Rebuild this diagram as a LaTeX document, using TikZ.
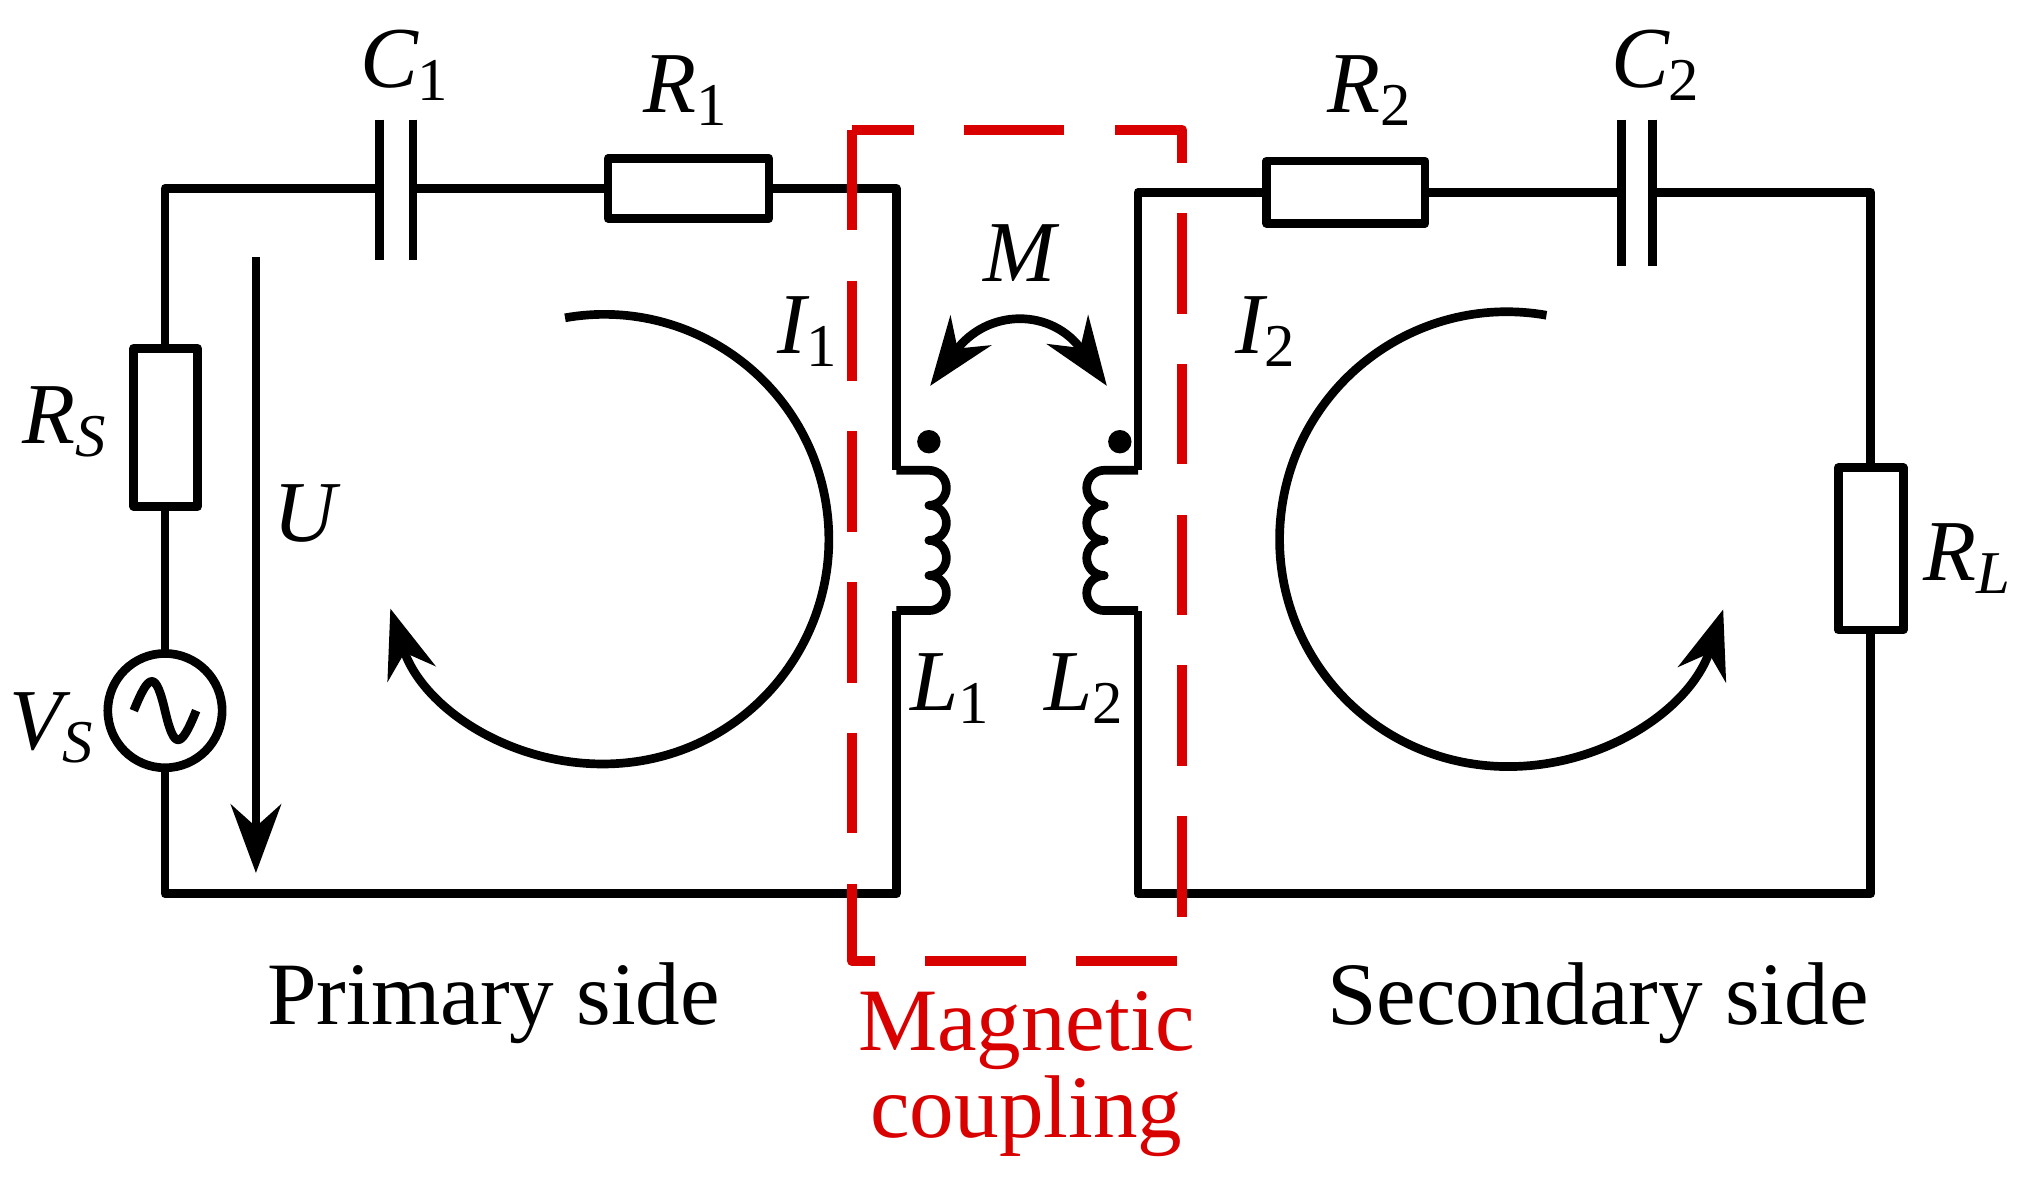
\documentclass[tikz,border=0pt]{standalone}
\usepackage{fontspec}
\setmainfont{Liberation Serif}
\usetikzlibrary{arrows.meta}
\begin{document}
\begin{tikzpicture}[x=0.01cm,y=0.01cm,line join=round,
  w/.style={line width=1.9pt},
  res/.style={draw,line width=1.9pt,fill=white},
  lab/.style={font=\fontsize{19}{23}\selectfont\itshape},
  txt/.style={font=\fontsize{19.5}{23}\selectfont},
  arr/.style={-{Stealth[length=15pt,width=11pt]}}]
\useasboundingbox (0,0) rectangle (1558,917);
% primary loop
\draw[w] (690,555) -- (690,772) -- (318,772);
\draw[w] (292,772) -- (127,772) -- (127,414);
\draw[w] (127,326) -- (127,229) -- (690,229) -- (690,447);
\draw[w] (292,825) -- (292,717) (318,825) -- (318,717);
\draw[res] (468,749) rectangle (592,795);
\draw[res] (103,527) rectangle (152,649);
\draw[w] (127,370) circle (44);
\draw[w] (103,370) .. controls (115,400) and (120,400) .. (127,370) .. controls (134,340) and (139,340) .. (151,370);
\draw[w] (690,555) -- (715,555) arc(90:-90:13.5) arc(90:-90:13.5) arc(90:-90:13.5) arc(90:-90:13.5) -- (690,447);
\fill (715,577) circle (9);
\draw[w,arr] (197,719) -- (197,245);
\draw[w,arr] (465,502) ++(100:173) arc(100:-162:173);
% secondary loop
\draw[w] (876,555) -- (876,769) -- (1248,769);
\draw[w] (1272,769) -- (1440,769) -- (1440,229) -- (876,229) -- (876,447);
\draw[w] (1248,825) -- (1248,712) (1272,825) -- (1272,712);
\draw[res] (975,745) rectangle (1097,793);
\draw[res] (1415,432) rectangle (1465,557);
\draw[w] (876,555) -- (850,555) arc(90:270:13.5) arc(90:270:13.5) arc(90:270:13.5) arc(90:270:13.5) -- (876,447);
\fill (862,577) circle (9);
\draw[w,arr] (1160,502) ++(80:175) arc(80:342:175);
% M
\draw[w,{Stealth[length=15pt,width=11pt]}-{Stealth[length=15pt,width=11pt]}] (716,620) .. controls (760,680) and (810,680) .. (852,620);
% red box
\draw[red!85!black,line width=2.2pt,dash pattern=on 22pt off 11pt] (656,817) rectangle (910,177);
% labels
\node[lab] at (312,867) {C\textsubscript{\upshape 1}};
\node[lab] at (528,847) {R\textsubscript{\upshape 1}};
\node[lab] at (50,592) {R\textsubscript{S}};
\node[lab] at (235,522) {U};
\node[lab] at (40,357) {V\textsubscript{S}};
\node[lab] at (622,662) {I\textsubscript{\upshape 1}};
\node[lab] at (785,722) {M};
\node[lab] at (732,387) {L\textsubscript{\upshape 1}};
\node[lab] at (835,387) {L\textsubscript{\upshape 2}};
\node[lab] at (975,662) {I\textsubscript{\upshape 2}};
\node[lab] at (1055,847) {R\textsubscript{\upshape 2}};
\node[lab] at (1275,867) {C\textsubscript{\upshape 2}};
\node[lab] at (1515,487) {R\textsubscript{L}};
\node[txt] at (380,145) {Primary side};
\node[txt] at (1230,145) {Secondary side};
\node[txt,text=red!85!black,align=center] at (790,90) {Magnetic\\[-4pt]coupling};
\end{tikzpicture}
\end{document}
